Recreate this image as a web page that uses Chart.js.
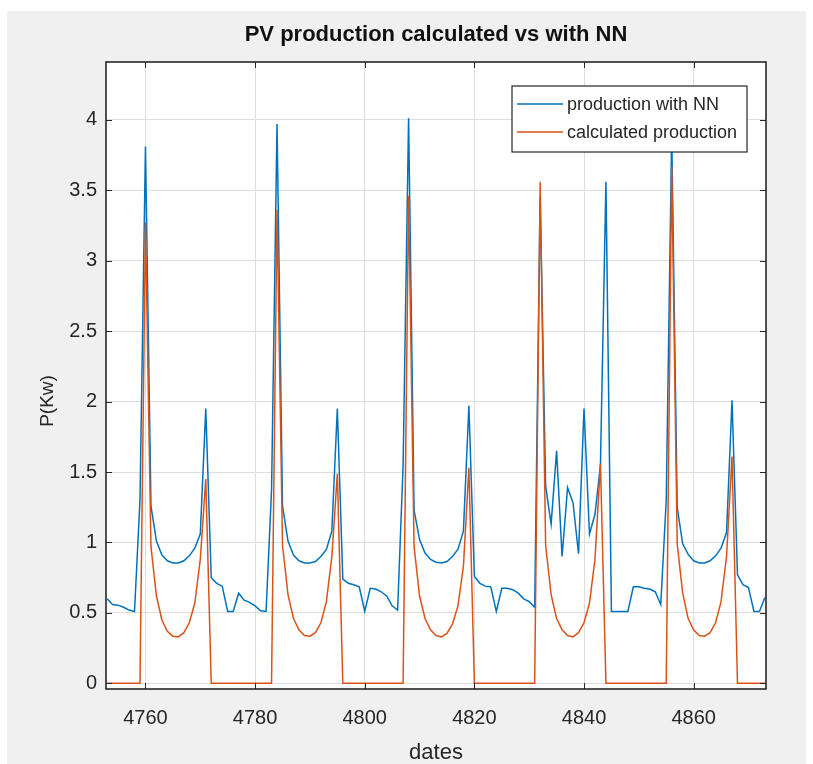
<!DOCTYPE html>
<html>
<head>
<meta charset="utf-8">
<title>PV production calculated vs with NN</title>
<script src="https://cdn.jsdelivr.net/npm/chart.js@4.4.1/dist/chart.umd.min.js"></script>
<style>
  html, body { margin: 0; padding: 0; background: #fff; }
  #wrap { width: 813px; height: 764px; }
</style>
</head>
<body>
<div id="wrap"><canvas id="myChart" width="813" height="764"></canvas></div>
<script>
// hours on the x axis
const dates = [
  4753, 4754, 4755, 4756, 4757, 4758, 4759, 4760, 4761, 4762, 4763, 4764, 4765, 4766, 4767, 4768, 4769, 4770, 4771, 4772,
  4773, 4774, 4775, 4776, 4777, 4778, 4779, 4780, 4781, 4782, 4783, 4784, 4785, 4786, 4787, 4788, 4789, 4790, 4791, 4792,
  4793, 4794, 4795, 4796, 4797, 4798, 4799, 4800, 4801, 4802, 4803, 4804, 4805, 4806, 4807, 4808, 4809, 4810, 4811, 4812,
  4813, 4814, 4815, 4816, 4817, 4818, 4819, 4820, 4821, 4822, 4823, 4824, 4825, 4826, 4827, 4828, 4829, 4830, 4831, 4832,
  4833, 4834, 4835, 4836, 4837, 4838, 4839, 4840, 4841, 4842, 4843, 4844, 4845, 4846, 4847, 4848, 4849, 4850, 4851, 4852,
  4853, 4854, 4855, 4856, 4857, 4858, 4859, 4860, 4861, 4862, 4863, 4864, 4865, 4866, 4867, 4868, 4869, 4870, 4871, 4872,
  4873
];

// production with NN (blue)
const nnProduction = [
  0.60, 0.56, 0.555, 0.54, 0.52, 0.51, 1.30, 3.81, 1.26, 1.01, 0.91, 0.87, 0.855, 0.855, 0.87, 0.905, 0.96, 1.06, 1.95, 0.75,
  0.71, 0.69, 0.51, 0.51, 0.64, 0.59, 0.575, 0.55, 0.515, 0.51, 1.37, 3.97, 1.26, 1.01, 0.91, 0.87, 0.855, 0.855, 0.865, 0.90,
  0.95, 1.08, 1.95, 0.74, 0.71, 0.70, 0.685, 0.51, 0.675, 0.67, 0.65, 0.62, 0.55, 0.52, 1.55, 4.01, 1.23, 1.02, 0.925, 0.88,
  0.86, 0.855, 0.865, 0.90, 0.95, 1.08, 1.97, 0.76, 0.71, 0.69, 0.685, 0.51, 0.675, 0.675, 0.665, 0.64, 0.60, 0.58, 0.54, 3.45,
  1.40, 1.13, 1.65, 0.90, 1.39, 1.28, 0.92, 1.95, 1.06, 1.20, 1.55, 3.56, 0.51, 0.51, 0.51, 0.51, 0.685, 0.685, 0.675, 0.67,
  0.65, 0.56, 1.30, 3.90, 1.25, 0.99, 0.915, 0.87, 0.855, 0.855, 0.87, 0.905, 0.96, 1.07, 2.01, 0.77, 0.70, 0.68, 0.51, 0.51,
  0.61
];

// calculated production (orange)
const calcProduction = [
  0, 0, 0, 0, 0, 0, 0, 3.27, 0.97, 0.62, 0.45, 0.37, 0.335, 0.33, 0.36, 0.43, 0.57, 0.88, 1.45, 0,
  0, 0, 0, 0, 0, 0, 0, 0, 0, 0, 0, 3.36, 0.98, 0.63, 0.46, 0.38, 0.34, 0.335, 0.36, 0.43,
  0.58, 0.90, 1.49, 0, 0, 0, 0, 0, 0, 0, 0, 0, 0, 0, 0, 3.46, 0.97, 0.62, 0.46, 0.38,
  0.34, 0.33, 0.355, 0.42, 0.55, 0.83, 1.53, 0, 0, 0, 0, 0, 0, 0, 0, 0, 0, 0, 0, 3.56,
  0.98, 0.63, 0.46, 0.38, 0.34, 0.33, 0.36, 0.43, 0.57, 0.88, 1.56, 0, 0, 0, 0, 0, 0, 0, 0, 0,
  0, 0, 0, 3.67, 0.99, 0.64, 0.46, 0.38, 0.34, 0.335, 0.36, 0.43, 0.58, 0.90, 1.61, 0, 0, 0, 0, 0,
  0
];

const seriesLabels = ['production with NN', 'calculated production'];
const xTicks = [4760, 4780, 4800, 4820, 4840, 4860];
const yTicks = [0, 0.5, 1, 1.5, 2, 2.5, 3, 3.5, 4];
const yLabel = 'P(Kw)';

const FONT = "'Liberation Sans', Arial, Helvetica, sans-serif";
const INK = '#262626';

const toPoints = vals => vals.map((v, i) => ({ x: dates[i], y: v }));

// grey figure, white axes, box with inward ticks, y label, legend box
const matlabFrame = {
  id: 'matlabFrame',
  beforeDraw(chart) {
    const { ctx, chartArea: a } = chart;
    ctx.save();
    ctx.fillStyle = '#ffffff';
    ctx.fillRect(0, 0, chart.width, chart.height);
    ctx.fillStyle = '#f0f0f0';
    ctx.fillRect(7, 11, 799, 753);
    ctx.fillStyle = '#ffffff';
    ctx.fillRect(a.left, a.top, a.right - a.left, a.bottom - a.top);
    ctx.restore();
  },
  afterDatasetsDraw(chart) {
    const { ctx, chartArea: a, scales: { x, y } } = chart;
    const opts = chart.options.plugins.matlabFrame;
    const tl = 6;
    ctx.save();
    ctx.strokeStyle = INK;
    ctx.lineWidth = 1;
    ctx.beginPath();
    xTicks.forEach(v => {
      const px = Math.round(x.getPixelForValue(v)) + 0.5;
      ctx.moveTo(px, a.bottom); ctx.lineTo(px, a.bottom - tl);
      ctx.moveTo(px, a.top); ctx.lineTo(px, a.top + tl);
    });
    yTicks.forEach(v => {
      const py = Math.round(y.getPixelForValue(v)) + 0.5;
      ctx.moveTo(a.left, py); ctx.lineTo(a.left + tl, py);
      ctx.moveTo(a.right, py); ctx.lineTo(a.right - tl, py);
    });
    ctx.stroke();
    ctx.lineWidth = 1.6;
    ctx.strokeRect(a.left, a.top, a.right - a.left, a.bottom - a.top);

    // y axis label
    const yl = opts.yTitle;
    ctx.save();
    ctx.translate(yl.x, yl.y);
    ctx.rotate(-Math.PI / 2);
    ctx.font = yl.fontSize + 'px ' + FONT;
    ctx.fillStyle = INK;
    ctx.textAlign = 'center';
    ctx.textBaseline = 'middle';
    ctx.fillText(yLabel, 0, 0);
    ctx.restore();

    // legend
    const lg = opts.legend;
    ctx.fillStyle = '#ffffff';
    ctx.fillRect(lg.x, lg.y, lg.w, lg.h);
    ctx.lineWidth = 1.2;
    ctx.strokeStyle = INK;
    ctx.strokeRect(lg.x, lg.y, lg.w, lg.h);
    ctx.font = lg.fontSize + 'px ' + FONT;
    ctx.textBaseline = 'middle';
    ctx.textAlign = 'left';
    chart.data.datasets.forEach((ds, i) => {
      const ly = lg.y + lg.rowTop + i * lg.rowGap;
      ctx.strokeStyle = ds.borderColor;
      ctx.lineWidth = 1.5;
      ctx.beginPath();
      ctx.moveTo(lg.x + 5, ly);
      ctx.lineTo(lg.x + 5 + lg.lineLen, ly);
      ctx.stroke();
      ctx.fillStyle = INK;
      ctx.fillText(ds.label, lg.x + lg.textOff, ly + 1);
    });
    ctx.restore();
  }
};

const ctx = document.getElementById('myChart');

const config = {
  type: 'line',
  data: {
    datasets: [
      {
        label: seriesLabels[0],
        data: toPoints(nnProduction),
        borderColor: '#0072BD',
        borderWidth: 1.5,
        pointRadius: 0,
        tension: 0,
        fill: false,
        order: 2
      },
      {
        label: seriesLabels[1],
        data: toPoints(calcProduction),
        borderColor: '#D95319',
        borderWidth: 1.5,
        pointRadius: 0,
        tension: 0,
        fill: false,
        order: 1
      }
    ]
  },
  options: {
    responsive: false,
    animation: false,
    events: [],
    layout: { padding: { top: 10, right: 47, bottom: 0, left: 0 } },
    plugins: {
      legend: { display: false },
      tooltip: { enabled: false },
      title: {
        display: true,
        text: 'PV production calculated vs with NN',
        fullSize: false,
        color: '#111111',
        font: { family: FONT, size: 22, weight: 'bold', lineHeight: 1.2 },
        padding: { top: 12, bottom: 13.6 }
      },
      matlabFrame: {
        yTitle: { x: 48, y: 401, fontSize: 19 },
        legend: { x: 512, y: 86, w: 235, h: 66, rowTop: 18, rowGap: 28, lineLen: 46, textOff: 55, fontSize: 18 }
      }
    },
    scales: {
      x: {
        type: 'linear',
        min: 4752.8,
        max: 4873.2,
        afterFit: s => { s.height = 75; },
        afterBuildTicks: s => { s.ticks = xTicks.map(v => ({ value: v })); },
        ticks: {
          autoSkip: false,
          maxRotation: 0,
          padding: 17,
          color: INK,
          font: { family: FONT, size: 20 },
          callback: v => String(v)
        },
        grid: { color: '#dedede', lineWidth: 1, drawTicks: false },
        border: { display: false },
        title: {
          display: true,
          text: 'dates',
          color: INK,
          font: { family: FONT, size: 22, lineHeight: 1 },
          padding: { top: 0, bottom: 0 }
        }
      },
      y: {
        min: -0.04,
        max: 4.41,
        afterFit: s => { s.width = 106; },
        afterBuildTicks: s => { s.ticks = yTicks.map(v => ({ value: v })); },
        ticks: {
          padding: 9,
          color: INK,
          font: { family: FONT, size: 20 },
          callback: v => String(v)
        },
        grid: { color: '#dedede', lineWidth: 1, drawTicks: false },
        border: { display: false }
      }
    }
  },
  plugins: [matlabFrame]
};

const myChart = new Chart(ctx, config);
</script>
</body>
</html>
